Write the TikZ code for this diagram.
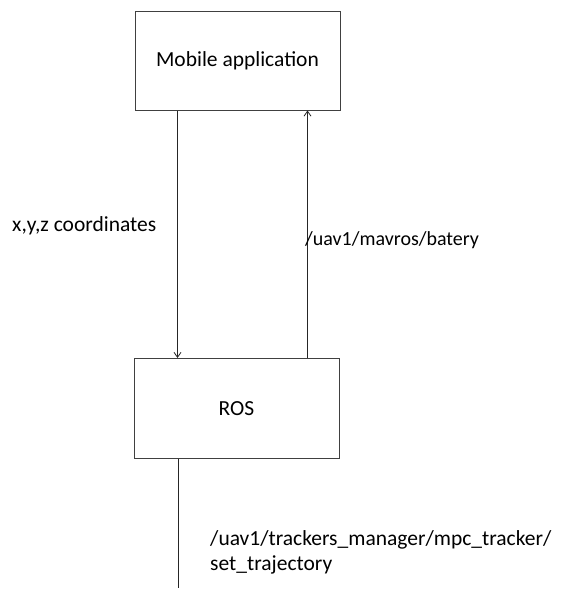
\documentclass[tikz,border=0pt]{standalone}
\usepackage{fontspec}
\setmainfont{Carlito}
\usetikzlibrary{arrows.meta}
\begin{document}
\begin{tikzpicture}[x=1pt,y=-1pt,
  box/.style={draw=black!75,line width=1pt,minimum width=205pt,minimum height=99pt,inner sep=0pt,font=\fontsize{21.5}{25}\selectfont},
  conn/.style={line width=0.9pt,draw=black!85},
  arr/.style={conn,-{Straight Barb[length=5pt,width=7pt,line width=0.8pt]}},
  lbl/.style={anchor=west,inner sep=0pt,font=\fontsize{21.5}{24.5}\selectfont,align=left}]
\useasboundingbox (0,0) rectangle (561,589);
\node[box] (mob) at (237.5,60.5) {Mobile application};
\node[box,minimum height=100pt] (ros) at (236.5,408.5) {ROS};
\coordinate (end) at (178,588);
\draw[arr] ([xshift=43pt]mob.south west) -- ([xshift=43pt]mob.south west |- ros.north);
\draw[arr] ([xshift=173pt]mob.south west |- ros.north) -- ([xshift=173pt]mob.south west);
\draw[conn] (ros.south west -| end) -- (end);
\node[lbl] (l1) at (12,226) {x,y,z coordinates};
\node[lbl,font=\fontsize{20}{24}\selectfont] (l2) at (305,240) {/uav1/mavros/batery};
\node[lbl] (l3) at (210,552.5) {/uav1/trackers\_manager/mpc\_tracker/\\set\_trajectory};
\end{tikzpicture}
\end{document}
